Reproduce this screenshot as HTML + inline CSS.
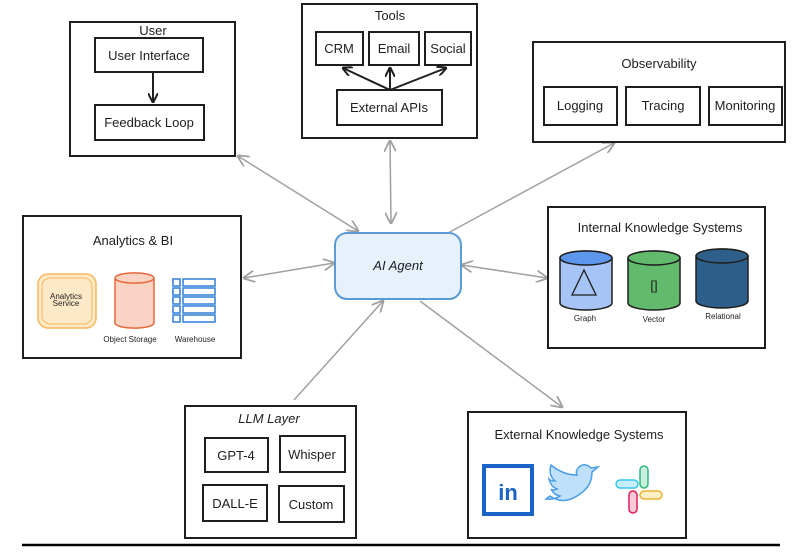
<!DOCTYPE html>
<html><head><meta charset="utf-8"><style>
html,body{margin:0;padding:0;background:#fff;}
svg{display:block;font-family:"Liberation Sans",sans-serif;}
.b{fill:#fff;stroke:#1e1e1e;stroke-width:2;}
.t{font-size:13px;fill:#1e1e1e;text-anchor:middle;}
.s{font-size:8px;fill:#1e1e1e;text-anchor:middle;}
.a{stroke:#a0a0a0;stroke-width:1.5;fill:none;}
</style></head><body>
<svg width="808" height="558" viewBox="0 0 808 558">
<defs>
<marker id="m" viewBox="0 0 10 10" refX="9" refY="5" markerWidth="12" markerHeight="12" orient="auto-start-reverse" markerUnits="userSpaceOnUse"><path d="M0,0 L10,5 L0,10" fill="none" stroke="#a0a0a0" stroke-width="1.5"/></marker>
<marker id="k" viewBox="0 0 10 10" refX="9" refY="5" markerWidth="10" markerHeight="10" orient="auto" markerUnits="userSpaceOnUse"><path d="M0,0 L10,5 L0,10" fill="none" stroke="#1e1e1e" stroke-width="2"/></marker>
</defs>
<!-- connectors -->
<line class="a" x1="238" y1="156" x2="358" y2="231" marker-start="url(#m)" marker-end="url(#m)"/>
<line class="a" x1="390" y1="141" x2="391" y2="223" marker-start="url(#m)" marker-end="url(#m)"/>
<line class="a" x1="448" y1="233" x2="614" y2="143" marker-end="url(#m)"/>
<line class="a" x1="244" y1="278" x2="334" y2="263" marker-start="url(#m)" marker-end="url(#m)"/>
<line class="a" x1="462" y1="265" x2="547" y2="278" marker-start="url(#m)" marker-end="url(#m)"/>
<line class="a" x1="294" y1="400" x2="383" y2="301" marker-end="url(#m)"/>
<line class="a" x1="420" y1="301" x2="562" y2="407" marker-end="url(#m)"/>
<!-- User -->
<rect class="b" x="70" y="22" width="165" height="134"/>
<text class="t" x="153" y="35">User</text>
<rect class="b" x="95" y="38" width="108" height="34"/>
<text class="t" x="149" y="60">User Interface</text>
<rect class="b" x="95" y="105" width="109" height="35"/>
<text class="t" x="149" y="127">Feedback Loop</text>
<line x1="153" y1="72" x2="153" y2="102" stroke="#1e1e1e" stroke-width="2" marker-end="url(#k)"/>
<!-- Tools -->
<rect class="b" x="302" y="4" width="175" height="134"/>
<text class="t" x="390" y="20">Tools</text>
<rect class="b" x="316" y="32" width="47" height="33"/><text class="t" x="339" y="53">CRM</text>
<rect class="b" x="369" y="32" width="50" height="33"/><text class="t" x="394" y="53">Email</text>
<rect class="b" x="425" y="32" width="46" height="33"/><text class="t" x="448" y="53">Social</text>
<rect class="b" x="337" y="90" width="105" height="35"/><text class="t" x="389" y="112">External APIs</text>
<g stroke="#1e1e1e" stroke-width="2"><line x1="390" y1="90" x2="343" y2="68" marker-end="url(#k)"/><line x1="390" y1="90" x2="390" y2="68" marker-end="url(#k)"/><line x1="390" y1="90" x2="446" y2="68" marker-end="url(#k)"/></g>
<!-- Observability -->
<rect class="b" x="533" y="42" width="252" height="100"/>
<text class="t" x="659" y="68">Observability</text>
<rect class="b" x="544" y="87" width="73" height="38"/><text class="t" x="580" y="110">Logging</text>
<rect class="b" x="626" y="87" width="74" height="38"/><text class="t" x="663" y="110">Tracing</text>
<rect class="b" x="709" y="87" width="73" height="38"/><text class="t" x="745" y="110">Monitoring</text>
<!-- Analytics -->
<rect class="b" x="23" y="216" width="218" height="142"/>
<text class="t" x="133" y="245">Analytics &amp; BI</text>
<rect x="38" y="274" width="58" height="54" rx="10" fill="#fde9c8" stroke="#f5b85c" stroke-width="1.5"/>
<rect x="42" y="278" width="50" height="46" rx="8" fill="none" stroke="#f5b85c"/>
<text class="s" x="66" y="299" font-size="6">Analytics</text><text class="s" x="66" y="306" font-size="6">Service</text>
<path d="M115,278 v45 a19,5 0 0 0 39,0 v-45 a19,5 0 0 0 -39,0 a19,5 0 0 0 39,0" fill="#fbd3c4" stroke="#e8683a" stroke-width="1.5"/>
<text class="s" x="130" y="342" font-size="7">Object Storage</text>
<g fill="#fff" stroke="#2f7fd6" stroke-width="1.5">
<rect x="173" y="279" width="7" height="7"/><rect x="183" y="279" width="32" height="7"/>
<rect x="173" y="288" width="7" height="7"/><rect x="183" y="288" width="32" height="7"/>
<rect x="173" y="297" width="7" height="7"/><rect x="183" y="297" width="32" height="7"/>
<rect x="173" y="306" width="7" height="7"/><rect x="183" y="306" width="32" height="7"/>
<rect x="173" y="315" width="7" height="7"/><rect x="183" y="315" width="32" height="7"/></g>
<text class="s" x="195" y="342" font-size="7">Warehouse</text>
<!-- AI Agent -->
<rect x="335" y="233" width="126" height="66" rx="12" fill="#e6f1fc" stroke="#5b9bd5" stroke-width="2"/>
<text class="t" x="398" y="270" font-style="italic">AI Agent</text>
<!-- Internal -->
<rect class="b" x="548" y="207" width="217" height="141"/>
<text class="t" x="660" y="232">Internal Knowledge Systems</text>
<path d="M560,258 v45 a26,7 0 0 0 52,0 v-45 a26,7 0 0 0 -52,0" fill="#a6c4f5" stroke="#1e1e1e" stroke-width="1.5"/><ellipse cx="586" cy="258" rx="26" ry="7" fill="#5c97ec" stroke="#1e1e1e" stroke-width="1.5"/>
<path d="M584,270 l-12,25 h24 z" fill="none" stroke="#1e1e1e" stroke-width="1.3"/>
<path d="M628,258 v45 a26,7 0 0 0 52,0 v-45 a26,7 0 0 0 -52,0" fill="#62bb6d" stroke="#1e1e1e" stroke-width="1.5"/><ellipse cx="654" cy="258" rx="26" ry="7" fill="#62bb6d" stroke="#1e1e1e" stroke-width="1.5"/>
<text class="t" x="654" y="290" font-size="11">[]</text>
<path d="M696,256 v45 a26,7 0 0 0 52,0 v-45 a26,7 0 0 0 -52,0" fill="#2e5f8a" stroke="#1e1e1e" stroke-width="1.5"/><ellipse cx="722" cy="256" rx="26" ry="7" fill="#2e5f8a" stroke="#1e1e1e" stroke-width="1.5"/>
<text class="s" x="585" y="321" font-size="9">Graph</text><text class="s" x="654" y="322" font-size="9">Vector</text><text class="s" x="723" y="319" font-size="9">Relational</text>
<!-- LLM -->
<rect class="b" x="185" y="406" width="171" height="132"/>
<text class="t" x="269" y="423" font-style="italic">LLM Layer</text>
<rect class="b" x="205" y="438" width="63" height="34"/><text class="t" x="236" y="460">GPT-4</text>
<rect class="b" x="280" y="436" width="65" height="36"/><text class="t" x="312" y="459">Whisper</text>
<rect class="b" x="203" y="485" width="64" height="36"/><text class="t" x="235" y="508">DALL-E</text>
<rect class="b" x="279" y="486" width="65" height="36"/><text class="t" x="311" y="509">Custom</text>
<!-- External -->
<rect class="b" x="468" y="412" width="218" height="126"/>
<text class="t" x="579" y="439">External Knowledge Systems</text>
<rect x="484" y="466" width="48" height="48" fill="#fff" stroke="#1c63c8" stroke-width="4"/>
<text x="508" y="500" font-size="22" font-weight="bold" fill="#1c63c8" text-anchor="middle">in</text>
<path d="M550,496 q14,10 30,-2 q12,-8 12,-22 l6,-5 l-7,1 q-6,-6 -12,-1 q-4,4 -2,8 q-14,0 -26,-10 q-3,10 4,16 q-4,0 -6,-2 q2,8 8,10 q-4,2 -6,0 q3,6 9,7 q-6,4 -14,3 z" fill="#bfe0fa" stroke="#4a9de8" stroke-width="1.5"/>
<g stroke-width="1.5" fill="none">
<rect x="616" y="480" width="22" height="8" rx="4" stroke="#36c5f0" fill="#c9eefb"/>
<rect x="640" y="466" width="8" height="22" rx="4" stroke="#2eb67d" fill="#c9f0de"/>
<rect x="640" y="491" width="22" height="8" rx="4" stroke="#ecb22e" fill="#fbefc7"/>
<rect x="629" y="491" width="8" height="22" rx="4" stroke="#e01e5a" fill="#f9cbd9"/>
</g>
<line x1="22" y1="545" x2="780" y2="545" stroke="#000" stroke-width="2.5"/>
</svg>
</body></html>
